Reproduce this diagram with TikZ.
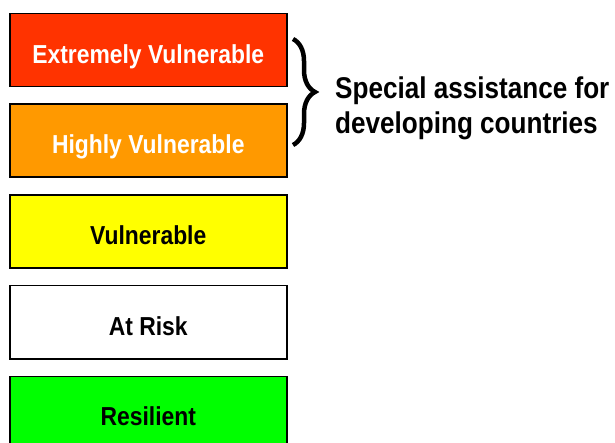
\documentclass[tikz,border=0pt]{standalone}
\usepackage{fontspec}
\setmainfont{Liberation Sans}[FakeStretch=0.88]
\newfontfamily\notefont{Liberation Sans}[FakeStretch=0.87]
\usetikzlibrary{decorations.pathreplacing}
\definecolor{cred}{HTML}{FF3300}
\definecolor{corange}{HTML}{FF9900}
\definecolor{cyellow}{HTML}{FFFF00}
\definecolor{cgreen}{HTML}{00FF00}
\tikzset{
  levelbox/.style={draw=black, line width=1.5pt, minimum width=277pt, inner xsep=0pt, inner ysep=0pt,
    text height=49.5pt, text depth=23.5pt, font=\fontsize{26}{30}\selectfont\bfseries},
  bracestyle/.style={decorate, decoration={brace, amplitude=22pt}, line width=4.5pt},
  notetext/.style={anchor=base west, align=left, inner sep=0pt, font=\notefont\fontsize{30}{35}\selectfont\bfseries}
}
\begin{document}
\begin{tikzpicture}[x=1pt, y=-1pt]
\useasboundingbox (0,0) rectangle (615,443);
\clip (0,0) rectangle (615,443);
\fill[white] (0,0) rectangle (615,443);
\node[levelbox, fill=cred, text=white, anchor=north] (ev) at (148.25,13) {Extremely Vulnerable};
\node[levelbox, fill=corange, text=white, anchor=north] (hv) at (148.25,103.5) {Highly Vulnerable};
\node[levelbox, fill=cyellow, text=black, anchor=north] (v) at (148.25,194.5) {Vulnerable};
\node[levelbox, fill=white, text=black, anchor=north] (ar) at (148.25,285) {At Risk};
\node[levelbox, fill=cgreen, text=black, anchor=north] (r) at (148.25,375.5) {Resilient};
\coordinate (bt) at (293,39);
\coordinate (bb) at (293,145);
\draw[bracestyle] (bt) -- (bb);
\node[notetext] (note) at (335,134) {Special assistance for\\developing countries};
\end{tikzpicture}
\end{document}
